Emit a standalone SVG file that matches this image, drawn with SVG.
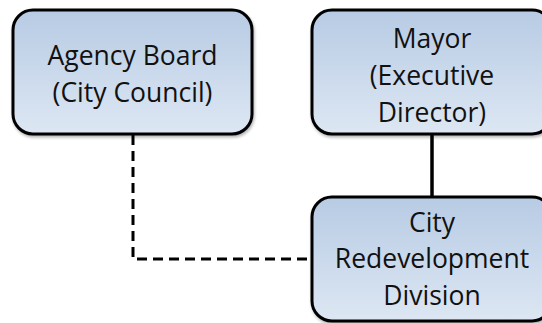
<svg xmlns="http://www.w3.org/2000/svg" width="542" height="323" viewBox="0 0 542 323">
  <defs>
    <linearGradient id="boxFill" x1="0" y1="0" x2="0" y2="1">
      <stop offset="0" stop-color="#b7cbe4"/>
      <stop offset="1" stop-color="#dde7f3"/>
    </linearGradient>
    <filter id="shadow" x="-10%" y="-10%" width="130%" height="130%">
      <feGaussianBlur in="SourceAlpha" stdDeviation="1.5"/>
      <feOffset dx="1" dy="2" result="b"/>
      <feComponentTransfer><feFuncA type="linear" slope="0.3"/></feComponentTransfer>
      <feMerge><feMergeNode/><feMergeNode in="SourceGraphic"/></feMerge>
    </filter>
  </defs>
  <style>
    .box { fill: url(#boxFill); stroke: #000; stroke-width: 3; filter: url(#shadow); }
    .label { font-family: "Open Sans", "DejaVu Sans", sans-serif; font-size: 26.5px; fill: #111; text-anchor: middle; }
    .link { fill: none; stroke: #000; stroke-width: 3.5; }
    .dashed { stroke-dasharray: 10 6; stroke-width: 3; }
  </style>
  <rect width="542" height="323" fill="#ffffff"/>

  <g id="connectors">
    <path class="link" d="M432 134 V197"/>
    <path class="link dashed" d="M133 135 V259 H312"/>
  </g>

  <g id="agency-board">
    <rect class="box" x="13" y="10" width="239" height="124" rx="20"/>
    <text class="label" x="132.5" y="65">Agency Board</text>
    <text class="label" x="132.5" y="102">(City Council)</text>
  </g>

  <g id="mayor">
    <rect class="box" x="312" y="10" width="240" height="124" rx="20"/>
    <text class="label" x="432" y="48">Mayor</text>
    <text class="label" x="432" y="85">(Executive</text>
    <text class="label" x="432" y="122">Director)</text>
  </g>

  <g id="redevelopment-division">
    <rect class="box" x="312" y="197" width="240" height="124" rx="20"/>
    <text class="label" x="432" y="232">City</text>
    <text class="label" x="432" y="268">Redevelopment</text>
    <text class="label" x="432" y="305">Division</text>
  </g>
</svg>
